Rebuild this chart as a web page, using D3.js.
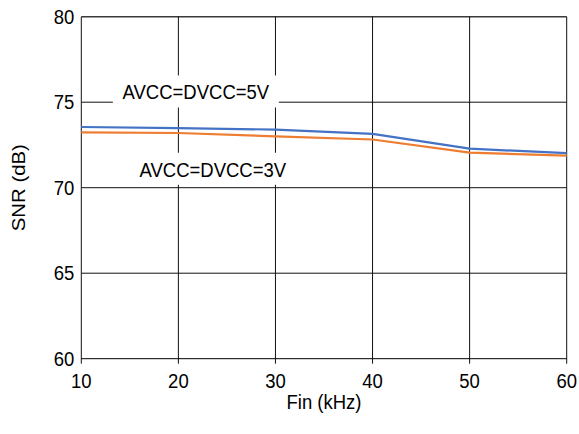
<!DOCTYPE html>
<html>
<head>
<meta charset="utf-8">
<script src="https://cdn.jsdelivr.net/npm/d3@7"></script>
<style>
  html, body { margin: 0; padding: 0; background: #fff; }
  svg { display: block; }
  text { font-family: "Liberation Sans", Arial, sans-serif; fill: #000; }
</style>
</head>
<body>
<svg id="chart" width="579" height="434"></svg>
<script>
// Input frequency (kHz)
const finKHz = [10, 20, 30, 40, 50, 60];
// SNR (dB) per supply voltage
const snr5V = [73.55, 73.48, 73.40, 73.15, 72.28, 72.02];
const snr3V = [73.23, 73.20, 73.00, 72.82, 72.05, 71.88];
const seriesNames = ["AVCC=DVCC=5V", "AVCC=DVCC=3V"];
const seriesColors = ["#4472C4", "#ED7D31"];
const xTicks = [10, 20, 30, 40, 50, 60];
const yTicks = [60, 65, 70, 75, 80];
// Annotation anchors in data units: [x, y of text baseline]
const labelAnchors = [[21.8, 75.16], [23.55, 70.64]];

const svg = d3.select("#chart");
const W = 579, H = 434;
const margin = { top: 16.7, right: 12.3, bottom: 75.3, left: 81.3 };
const FS = 18.5;
const STRETCH = 1.1; // glyphs are drawn slightly taller than wide

const x = d3.scaleLinear().domain([10, 60]).range([margin.left, W - margin.right]);
const y = d3.scaleLinear().domain([60, 80]).range([H - margin.bottom, margin.top]);

// place a horizontal text at (px, py) with the vertical stretch applied
function placeText(sel, px, py) {
  return sel.attr("transform", `translate(${px},${py}) scale(1,${STRETCH})`);
}

const grid = svg.append("g");
// horizontal grid lines
grid.selectAll("line.h").data(yTicks.filter(v => v > 60)).join("line")
  .attr("x1", x(10)).attr("x2", x(60))
  .attr("y1", d => y(d)).attr("y2", d => y(d))
  .attr("stroke", d => d === 80 ? "#3a3a3a" : "#111")
  .attr("stroke-width", d => d === 80 ? 1.6 : 1);
// vertical grid lines with short ticks below the axis
grid.selectAll("line.v").data(xTicks).join("line")
  .attr("x1", d => x(d)).attr("x2", d => x(d))
  .attr("y1", y(80)).attr("y2", y(60) + 5)
  .attr("stroke", "#111").attr("stroke-width", 1);
// bottom axis line
grid.append("line")
  .attr("x1", x(10)).attr("x2", x(60))
  .attr("y1", y(60)).attr("y2", y(60))
  .attr("stroke", "#000").attr("stroke-width", 1);

// tick labels
svg.append("g").selectAll("text").data(xTicks).join("text")
  .each(function (d) { placeText(d3.select(this), x(d), y(60) + 29); })
  .attr("text-anchor", "middle").attr("font-size", FS)
  .text(d => d);
svg.append("g").selectAll("text").data(yTicks).join("text")
  .each(function (d) { placeText(d3.select(this), x(10) - 7, y(d) + 7); })
  .attr("text-anchor", "end").attr("font-size", FS)
  .text(d => d);

// axis titles
placeText(svg.append("text"), (x(10) + x(60)) / 2, H - 25)
  .attr("text-anchor", "middle").attr("font-size", FS)
  .text("Fin (kHz)");
svg.append("text")
  .attr("transform", `translate(25,${(y(60) + y(80)) / 2}) rotate(-90) scale(${STRETCH},1)`)
  .attr("text-anchor", "middle").attr("font-size", FS)
  .text("SNR (dB)");

// series annotations on white boxes
const ann = svg.append("g");
labelAnchors.forEach((a, i) => {
  const cx = x(a[0]), by = y(a[1]);
  ann.append("rect")
    .attr("x", cx - 83).attr("y", by - 24)
    .attr("width", 166).attr("height", 32)
    .attr("fill", "#fff");
  placeText(ann.append("text"), cx, by)
    .attr("text-anchor", "middle").attr("font-size", FS)
    .text(seriesNames[i]);
});

// series lines
const line = d3.line().x((d, i) => x(finKHz[i])).y(d => y(d));
[snr5V, snr3V].forEach((vals, i) => {
  svg.append("path")
    .datum(vals)
    .attr("d", line)
    .attr("fill", "none")
    .attr("stroke", seriesColors[i])
    .attr("stroke-width", 2.2)
    .attr("stroke-linejoin", "round");
});
</script>
</body>
</html>
